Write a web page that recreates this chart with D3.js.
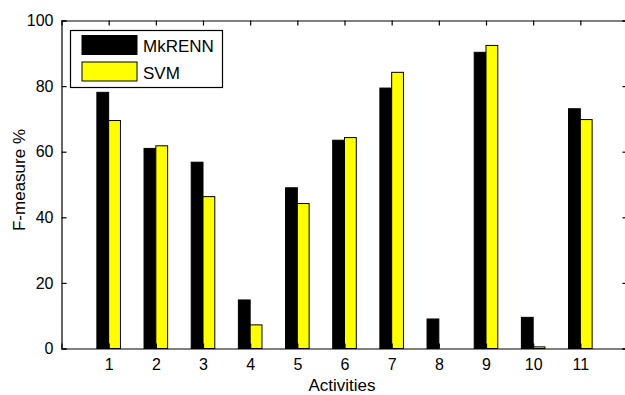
<!DOCTYPE html>
<html>
<head>
<meta charset="utf-8">
<script src="https://cdnjs.cloudflare.com/ajax/libs/d3/7.8.5/d3.min.js"></script>
<style>
  body { margin: 0; background: #fff; }
  svg text { font-family: "Liberation Sans", Arial, sans-serif; fill: #000; }
</style>
</head>
<body>
<svg id="chart" width="625" height="395"></svg>
<script>
// data
var activities = [1, 2, 3, 4, 5, 6, 7, 8, 9, 10, 11];
var mkrenn = [78.1, 61.0, 56.8, 14.8, 49.0, 63.5, 79.4, 9.0, 90.3, 9.5, 73.1];
var svm = [69.5, 61.8, 46.3, 7.2, 44.2, 64.3, 84.2, 0, 92.4, 0.5, 69.8];
var yTicks = [0, 20, 40, 60, 80, 100];
var seriesNames = ['MkRENN', 'SVM'];
var seriesColors = ['#000000', '#ffff00'];

var svg = d3.select('#chart');
var plotLeft = 61.5, plotRight = 627.5, plotTop = 20.5, plotBottom = 348.5;

var x = d3.scaleLinear().domain([0, 12]).range([plotLeft, plotRight]);
var y = d3.scaleLinear().domain([0, 100]).range([plotBottom, plotTop]);
var bw = 0.25;

// bars
var series = [mkrenn, svm];
series.forEach(function(vals, s) {
    svg.append('g').selectAll('rect')
        .data(vals)
        .enter().append('rect')
        .attr('x', function(d, i) { return x(activities[i] + (s === 0 ? -bw : 0)); })
        .attr('y', function(d) { return y(d); })
        .attr('width', x(bw) - x(0))
        .attr('height', function(d) { return y(0) - y(d); })
        .attr('fill', seriesColors[s])
        .attr('stroke', '#000')
        .attr('stroke-width', 1);
});

// axes: ticks inward, box around plot
var tickLen = 5;
var xAxis = d3.axisBottom(x).tickValues(activities).tickSize(-tickLen).tickPadding(10).tickFormat(d3.format('d'));
var yAxis = d3.axisLeft(y).tickValues(yTicks).tickSize(-tickLen).tickPadding(8);

svg.append('g').attr('transform', 'translate(0,' + plotBottom + ')').call(xAxis);
svg.append('g').attr('transform', 'translate(' + plotLeft + ',0)').call(yAxis);
svg.append('g').attr('transform', 'translate(0,' + plotTop + ')')
    .call(d3.axisTop(x).tickValues(activities).tickSize(-tickLen).tickFormat(''));
svg.append('g').attr('transform', 'translate(' + plotRight + ',0)')
    .call(d3.axisRight(y).tickValues(yTicks).tickSize(-tickLen).tickFormat(''));

svg.selectAll('.domain').attr('stroke', '#000').attr('stroke-width', 1.2);
svg.selectAll('.tick line').attr('stroke', '#000').attr('stroke-width', 1.2);
svg.selectAll('.tick text').style('font-size', '16px').attr('fill', '#000');

// axis labels
svg.append('text')
    .attr('x', 342).attr('y', 391)
    .attr('text-anchor', 'middle')
    .style('font-size', '17px')
    .text('Activities');
svg.append('text')
    .attr('transform', 'translate(25,180) rotate(-90)')
    .attr('text-anchor', 'middle')
    .style('font-size', '17px')
    .text('F-measure %');

// legend
var lg = svg.append('g');
lg.append('rect')
    .attr('x', 70.5).attr('y', 30.5).attr('width', 152).attr('height', 57)
    .attr('fill', '#fff').attr('stroke', '#000').attr('stroke-width', 1.2);
seriesNames.forEach(function(name, i) {
    lg.append('rect')
        .attr('x', 82).attr('y', 35.5 + i * 26.5).attr('width', 55).attr('height', 19)
        .attr('fill', seriesColors[i]).attr('stroke', '#000').attr('stroke-width', 1);
    lg.append('text')
        .attr('x', 143).attr('y', 52 + i * 26.5)
        .style('font-size', '17px')
        .text(name);
});
</script>
</body>
</html>
